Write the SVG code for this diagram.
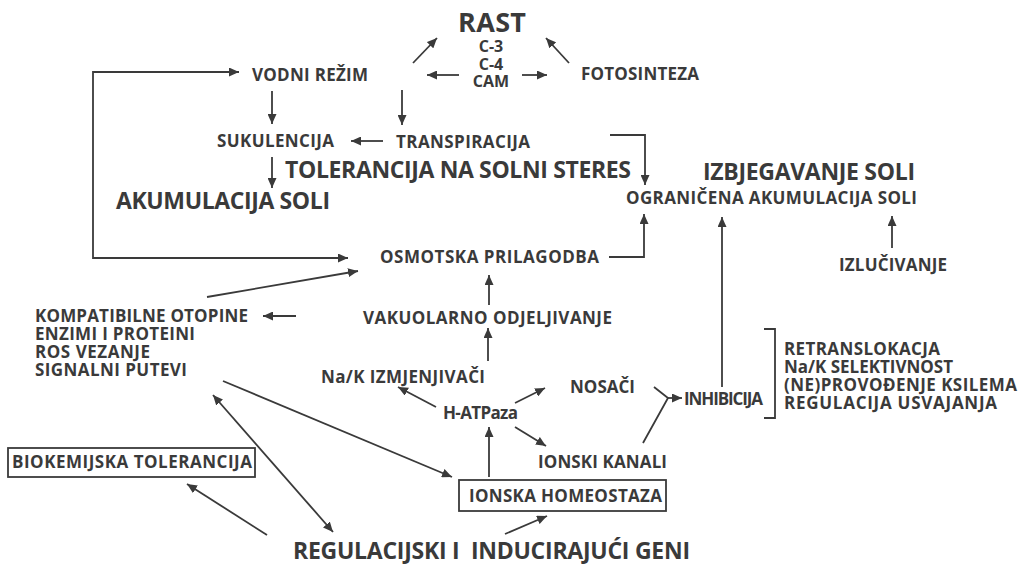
<svg xmlns="http://www.w3.org/2000/svg" width="1025" height="565" viewBox="0 0 1025 565">
<style>
text{font-family:"Open Sans","DejaVu Sans",sans-serif;font-weight:700;fill:#3a3a3a}
.s{font-size:17px}
.b{font-size:23px}
.c{font-size:16px}
.ln{fill:none;stroke:#3a3a3a;stroke-width:1.8}
.a{marker-end:url(#ah)}
.d{marker-start:url(#ah2);marker-end:url(#ah)}
.box{fill:none;stroke:#3a3a3a;stroke-width:1.8}
</style>
<defs>
<marker id="ah" markerUnits="userSpaceOnUse" markerWidth="11" markerHeight="9" refX="10" refY="4.5" orient="auto">
<path d="M0,0 L10,4.5 L0,9 z" fill="#3a3a3a"/>
</marker>
<marker id="ah2" markerUnits="userSpaceOnUse" markerWidth="11" markerHeight="9" refX="10" refY="4.5" orient="auto-start-reverse">
<path d="M0,0 L10,4.5 L0,9 z" fill="#3a3a3a"/>
</marker>
</defs>
<rect width="1025" height="565" fill="#fff"/>
<g id="connectors">
<path class="ln d" d="M239,72 H93 V258 H348"/>
<path class="ln a" d="M272,91 V124"/>
<path class="ln a" d="M402,90 V125"/>
<path class="ln a" d="M383,141 H351"/>
<path class="ln a" d="M272,157 V188"/>
<path class="ln a" d="M413,63 L437,38"/>
<path class="ln a" d="M569,63 L546,38"/>
<path class="ln a" d="M459,75 H427"/>
<path class="ln a" d="M522,75 H547"/>
<path class="ln a" d="M610,135 H645 V185"/>
<path class="ln a" d="M609,257 H644 V214"/>
<path class="ln a" d="M722,387 V217"/>
<path class="ln a" d="M892,248 V216"/>
<path class="ln a" d="M207,297 L358,271"/>
<path class="ln a" d="M296,316 H263"/>
<path class="ln a" d="M489,305 V275"/>
<path class="ln a" d="M488,361 V328"/>
<path class="ln a" d="M436,407 L398,387"/>
<path class="ln a" d="M515,403 L545,388"/>
<path class="ln a" d="M515,427 L546,446"/>
<path class="ln" d="M654,387 L668,398 L643,443"/>
<path class="ln a" d="M668,398 H682"/>
<path class="ln a" d="M489,477 V427"/>
<path class="ln a" d="M223,381 L452,477"/>
<path class="ln d" d="M213,395 L333,532"/>
<path class="ln a" d="M267,535 L187,484"/>
<path class="ln a" d="M505,534 L547,516"/>
<path class="ln" d="M764,329 H775 V418 H764"/>
</g>
<g id="rast"><text x="458" y="32" style="font-size:27px" textLength="68">RAST</text></g>
<g id="c3c4cam">
<text class="c" x="491" y="52" text-anchor="middle">C-3</text>
<text class="c" x="491" y="70" text-anchor="middle">C-4</text>
<text class="c" x="491" y="87" text-anchor="middle">CAM</text>
</g>
<g id="vodni"><text class="s" x="252" y="81" textLength="116">VODNI REŽIM</text></g>
<g id="fotosinteza"><text class="s" x="581" y="80" textLength="118">FOTOSINTEZA</text></g>
<g id="sukulencija"><text class="s" x="217" y="147" textLength="117">SUKULENCIJA</text></g>
<g id="transpiracija"><text class="s" x="396" y="148" textLength="134">TRANSPIRACIJA</text></g>
<g id="tolerancija"><text class="b" x="285" y="178" textLength="346">TOLERANCIJA NA SOLNI STERES</text></g>
<g id="akumulacija"><text class="b" x="116" y="209" textLength="214">AKUMULACIJA SOLI</text></g>
<g id="izbjegavanje"><text class="b" x="703" y="180" textLength="212">IZBJEGAVANJE SOLI</text></g>
<g id="ogranicena"><text class="s" x="626" y="204" textLength="291">OGRANIČENA AKUMULACIJA SOLI</text></g>
<g id="izlucivanje"><text class="s" x="839" y="271" textLength="108">IZLUČIVANJE</text></g>
<g id="osmotska"><text class="s" x="380" y="263" textLength="219">OSMOTSKA PRILAGODBA</text></g>
<g id="kompatibilne">
<text class="s" x="35" y="322" textLength="213">KOMPATIBILNE OTOPINE</text>
<text class="s" x="35" y="340" textLength="160">ENZIMI I PROTEINI</text>
<text class="s" x="35" y="358" textLength="115">ROS VEZANJE</text>
<text class="s" x="35" y="376" textLength="152">SIGNALNI PUTEVI</text>
</g>
<g id="vakuolarno"><text class="s" x="363" y="324" textLength="249">VAKUOLARNO ODJELJIVANJE</text></g>
<g id="nak"><text class="s" x="321" y="383" textLength="164">Na/K IZMJENJIVAČI</text></g>
<g id="hatpaza"><text class="s" x="443" y="419" textLength="75">H-ATPaza</text></g>
<g id="nosaci"><text class="s" x="570" y="393" textLength="65">NOSAČI</text></g>
<g id="inhibicija"><text class="s" x="684" y="405" textLength="79">INHIBICIJA</text></g>
<g id="ionski"><text class="s" x="538" y="468" textLength="129">IONSKI KANALI</text></g>
<g id="homeostaza">
<rect class="box" x="459" y="480" width="207" height="31"/>
<text class="s" x="469" y="502" textLength="193">IONSKA HOMEOSTAZA</text>
</g>
<g id="biokemijska">
<rect class="box" x="8" y="448" width="247" height="29"/>
<text class="s" x="12" y="468" textLength="240">BIOKEMIJSKA TOLERANCIJA</text>
</g>
<g id="geni"><text class="b" x="293" y="559" textLength="397" xml:space="preserve">REGULACIJSKI I  INDUCIRAJUĆI GENI</text></g>
<g id="lista">
<text class="s" x="784" y="355" textLength="156">RETRANSLOKACJA</text>
<text class="s" x="784" y="373" textLength="169">Na/K SELEKTIVNOST</text>
<text class="s" x="784" y="391" textLength="233">(NE)PROVOĐENJE KSILEMA</text>
<text class="s" x="784" y="409" textLength="213">REGULACIJA USVAJANJA</text>
</g>
</svg>
